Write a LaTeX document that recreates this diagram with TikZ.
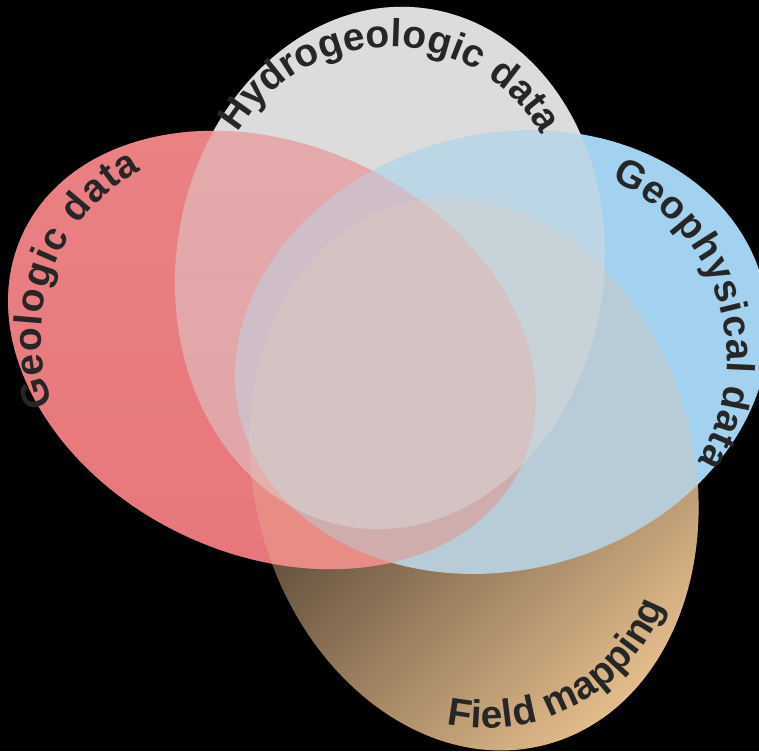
\documentclass[tikz,border=0pt]{standalone}
\usepackage{fontspec}
\usepackage{tikz}
\usetikzlibrary{decorations.text}
\newfontfamily\labelfamily{Liberation Sans}
\newcommand{\labelfont}{\labelfamily\bfseries\fontsize{39}{42}\selectfont}
\definecolor{hydrogray}{HTML}{DCDCDC}
\definecolor{georedtop}{HTML}{EF8A8C}
\definecolor{georedbot}{HTML}{E5737A}
\definecolor{geored}{HTML}{E97B7E}
\definecolor{physblue}{HTML}{A3D2F0}
\definecolor{tandark}{HTML}{231A11}
\definecolor{tanlight}{HTML}{EBC38C}
\definecolor{tanwash}{HTML}{E8C09A}
\definecolor{ink}{HTML}{262626}
% the four sets
\newcommand{\hydroset}{(390,483) circle [x radius=214, y radius=262, rotate=-8]}
\newcommand{\geoset}{(272,401) circle [x radius=275, y radius=205, rotate=-25]}
\newcommand{\physset}{(502,399) circle [x radius=270, y radius=218, rotate=15]}
\newcommand{\fieldset}{(474,277) circle [x radius=280, y radius=220, rotate=105]}

\begin{document}
\begin{tikzpicture}[x=1pt, y=1pt,
	lbl/.style = {decorate, decoration={text along path, text align=fit to path, text color=ink}}]
	\fill[black] (0,0) rectangle (759,751);
	\useasboundingbox (0,0) rectangle (759,751);
	% first pass, solid
	\fill[hydrogray] \hydroset;
	\scope
	\clip \fieldset;
	\shade[top color=tandark, bottom color=tanlight, shading angle=45] (240,0) rectangle (710,300);
	\endscope
	\shade[top color=georedtop, bottom color=georedbot] \geoset;
	\fill[physblue] \physset;
	% second pass, see-through
	\fill[geored, opacity=0.5] \geoset;
	\fill[tanwash, opacity=0.3] \fieldset;
	\fill[hydrogray, opacity=0.45] \hydroset;
	% labels
	\path[lbl, decoration={text={|\labelfont|Hydrogeologic data}}] (389,528) ++(149:176) arc [start angle=149, end angle=30, radius=176];
	\path[lbl, decoration={text={|\labelfont|Geologic data}}] (230,414) ++(201:189) arc [start angle=201, end angle=118, radius=189];
	\path[lbl, decoration={text={|\labelfont|Geophysical data}}] (532,393) ++(66:195) arc [start angle=66, end angle=-32, radius=195];
	\path[lbl, decoration={text={|\labelfont|Field mapping}}] (486,214) ++(-102:191) arc [start angle=-102, end angle=-21, radius=191];
\end{tikzpicture}
\end{document}
